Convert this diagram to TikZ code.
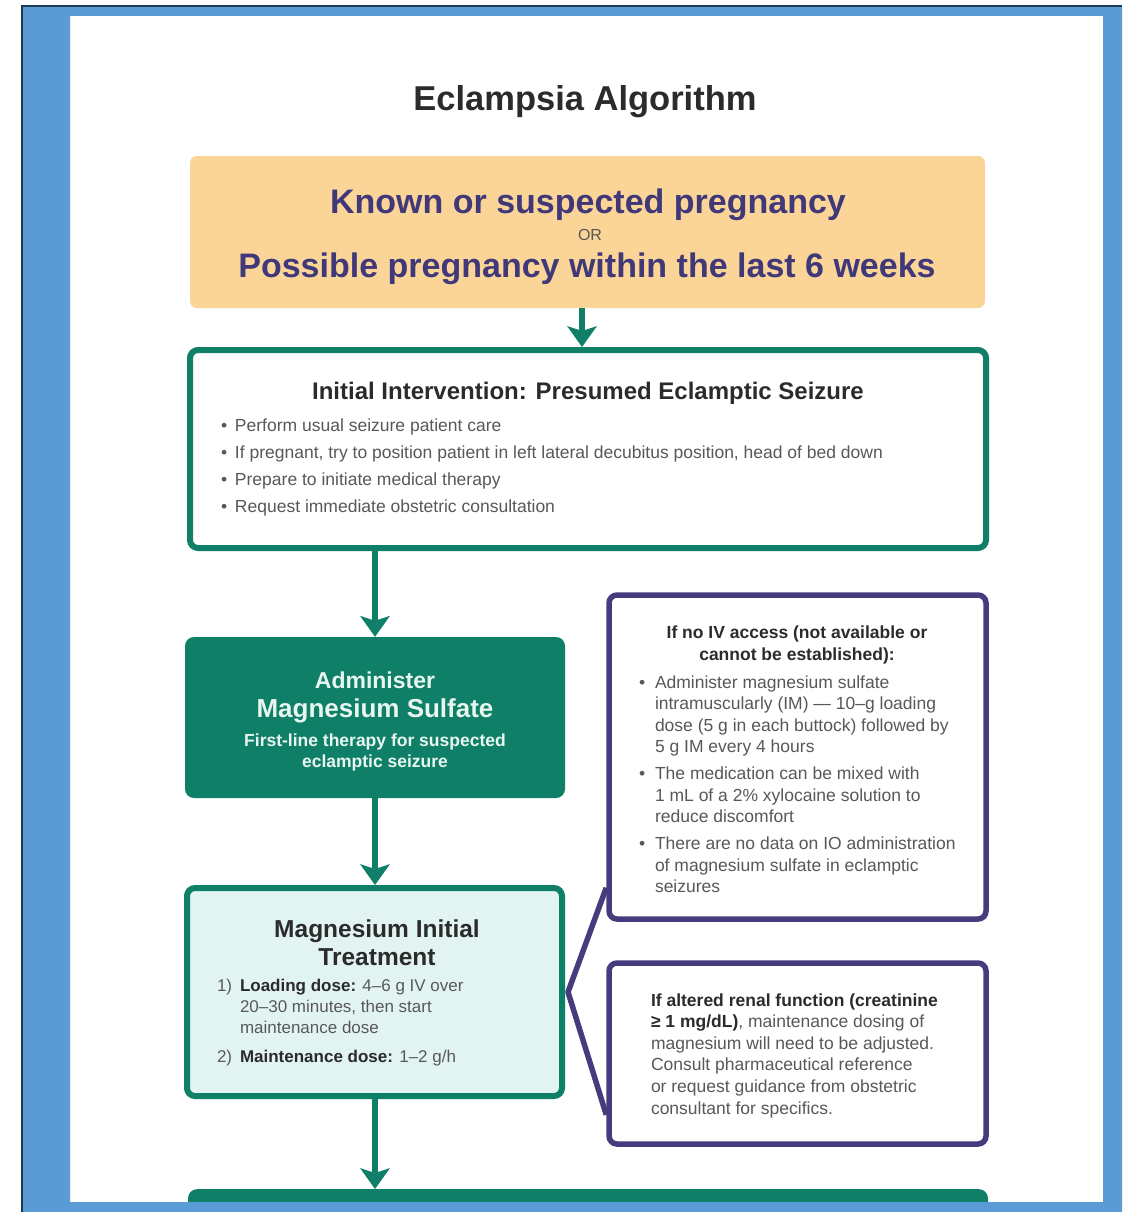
\documentclass[tikz,border=0pt]{standalone}
\usepackage{fontspec}
\setmainfont{Liberation Sans}
\usetikzlibrary{arrows.meta,calc}
\definecolor{gr}{RGB}{16,127,104}
\definecolor{mint}{RGB}{226,244,242}
\definecolor{pur}{RGB}{70,60,125}
\definecolor{org}{RGB}{250,213,151}
\definecolor{navy}{RGB}{64,56,120}
\definecolor{frame}{RGB}{91,155,213}
\definecolor{darkline}{RGB}{31,56,84}
\definecolor{body}{RGB}{88,88,88}
\definecolor{dk}{RGB}{43,43,43}
\definecolor{wt}{RGB}{232,246,240}
\newcommand\fsz[2]{\fontsize{#1}{#2}\selectfont}
\begin{document}
\begin{tikzpicture}[x=1pt,y=-1pt,
  obox/.style={fill=org, rounded corners=7pt, inner sep=0pt},
  gbox/.style={draw=gr, line width=6pt, fill=white, rounded corners=8pt, inner sep=0pt},
  abox/.style={fill=gr, rounded corners=9pt, inner sep=0pt},
  mbox/.style={draw=gr, line width=6pt, fill=mint, rounded corners=8pt, inner sep=0pt},
  pbox/.style={draw=pur, line width=5.5pt, fill=white, rounded corners=8pt, inner sep=0pt},
  txt/.style={inner sep=0pt, outer sep=0pt},
  arr/.style={draw=gr, line width=5.5pt, -{Stealth[length=21pt,width=30pt,inset=5pt,line width=0pt]}},
  brk/.style={draw=pur, line width=5.5pt, line join=round}
]
\useasboundingbox (0,0) rectangle (1122,1212);
\fill[white] (0,0) rectangle (1122,1212);

% boxes
\node[obox, minimum width=795pt, minimum height=152pt] (orange) at (587.5,232) {};
\node[gbox, minimum width=796pt, minimum height=198pt] (initial) at (588,449) {};
\node[abox, minimum width=380pt, minimum height=161pt] (admin) at (375,717.5) {};
\node[mbox, minimum width=375pt, minimum height=208pt] (mag) at (374.5,992) {};
\node[pbox, minimum width=377pt, minimum height=324pt] (ivbox) at (797.5,757) {};
\node[pbox, minimum width=377pt, minimum height=181pt] (renal) at (797.5,1053.5) {};
\node[abox, minimum width=800pt, minimum height=60pt, anchor=north] (next) at (588,1189) {};

% connectors
\draw[arr] ([xshift=-5.5pt]orange.south) -- ([xshift=-5.5pt]orange.south |- initial.north);
\draw[arr] (admin.north |- initial.south) -- (admin.north);
\draw[arr] (admin.south) -- (admin.south |- mag.north);
\draw[arr] (admin.south |- mag.south) -- (admin.south |- next.north);
\coordinate (vx) at ([xshift=3pt]mag.east);
\draw[brk] ([yshift=34pt]ivbox.south west) -- (vx) -- ([yshift=32pt]renal.south west);

% title
\node[txt, anchor=base, font=\fsz{34.5}{40}\bfseries, text=dk] (title) at (585,111) {Eclampsia Algorithm};

% orange texts
\node[txt, anchor=base, font=\fsz{34}{40}\bfseries, text=navy] (known) at (588,213) {Known or suspected pregnancy};
\node[txt, anchor=base, font=\fsz{16}{18}, text=body] (or) at (590,240) {OR};
\node[txt, anchor=base, font=\fsz{34}{40}\bfseries, text=navy] (possible) at (587,277) {Possible pregnancy within the last 6 weeks};

% initial texts
\node[txt, anchor=base, font=\fsz{24}{28}\bfseries, text=dk] (inittitle) at (588,399) {Initial Intervention: Presumed Eclamptic Seizure};
\node[txt, anchor=north west, align=left, font=\fsz{17.5}{27}, text=body] (initlist) at (221,419.3)
{\makebox[14pt][l]{\textbullet}Perform usual seizure patient care\\
 \makebox[14pt][l]{\textbullet}If pregnant, try to position patient in left lateral decubitus position, head of bed down\\
 \makebox[14pt][l]{\textbullet}Prepare to initiate medical therapy\\
 \makebox[14pt][l]{\textbullet}Request immediate obstetric consultation};

% administer texts
\node[txt, anchor=base, font=\fsz{23}{26}\bfseries, text=wt] (adm1) at (375,688) {Administer};
\node[txt, anchor=base, font=\fsz{26}{30}\bfseries, text=wt] (adm2) at (375,717) {Magnesium Sulfate};
\node[txt, anchor=north, align=center, font=\fsz{17.5}{21}\bfseries, text=wt] (adm3) at (375,733.5)
{First-line therapy for suspected\\eclamptic seizure};

% magnesium texts
\node[txt, anchor=north, align=center, font=\fsz{24.5}{28}\bfseries, text=dk] (magtitle) at (377,920)
{Magnesium Initial\\Treatment};
\node[txt, anchor=north west, align=left, font=\fsz{17}{21}, text=body] (maglist) at (217,979.6)
{\makebox[23pt][l]{1)}\textbf{\color{dk}Loading dose:} 4–6 g IV over\\
 \hspace*{23pt}20–30 minutes, then start\\
 \hspace*{23pt}maintenance dose\\[8pt]
 \makebox[23pt][l]{2)}\textbf{\color{dk}Maintenance dose:} 1–2 g/h};

% IV box texts
\node[txt, anchor=north, align=center, font=\fsz{17.5}{22}\bfseries, text=dk] (ivtitle) at (797,625.5)
{If no IV access (not available or\\cannot be established):};
\node[txt, anchor=north west, align=left, font=\fsz{17.5}{21.5}, text=body] (ivlist) at (639,675.5)
{\makebox[16pt][l]{\textbullet}Administer magnesium sulfate\\
 \hspace*{16pt}intramuscularly (IM) — 10–g loading\\
 \hspace*{16pt}dose (5 g in each buttock) followed by\\
 \hspace*{16pt}5 g IM every 4 hours\\[5.5pt]
 \makebox[16pt][l]{\textbullet}The medication can be mixed with\\
 \hspace*{16pt}1 mL of a 2\% xylocaine solution to\\
 \hspace*{16pt}reduce discomfort\\[5.5pt]
 \makebox[16pt][l]{\textbullet}There are no data on IO administration\\
 \hspace*{16pt}of magnesium sulfate in eclamptic\\
 \hspace*{16pt}seizures};

% renal texts
\node[txt, anchor=north west, align=left, font=\fsz{17.5}{21.6}, text=body] (renaltext) at (651,993.5)
{\textbf{\color{dk}If altered renal function (creatinine}\\
 \textbf{\color{dk}≥ 1 mg/dL)}, maintenance dosing of\\
 magnesium will need to be adjusted.\\
 Consult pharmaceutical reference\\
 or request guidance from obstetric\\
 consultant for specifics.};

% frame on top
\fill[frame, even odd rule] (23,7) rectangle (1122,1212) (70,16) rectangle (1103,1202);
\fill[darkline] (21,5) rectangle (1122,7);
\fill[darkline] (21,5) rectangle (23,1212);
\end{tikzpicture}
\end{document}
